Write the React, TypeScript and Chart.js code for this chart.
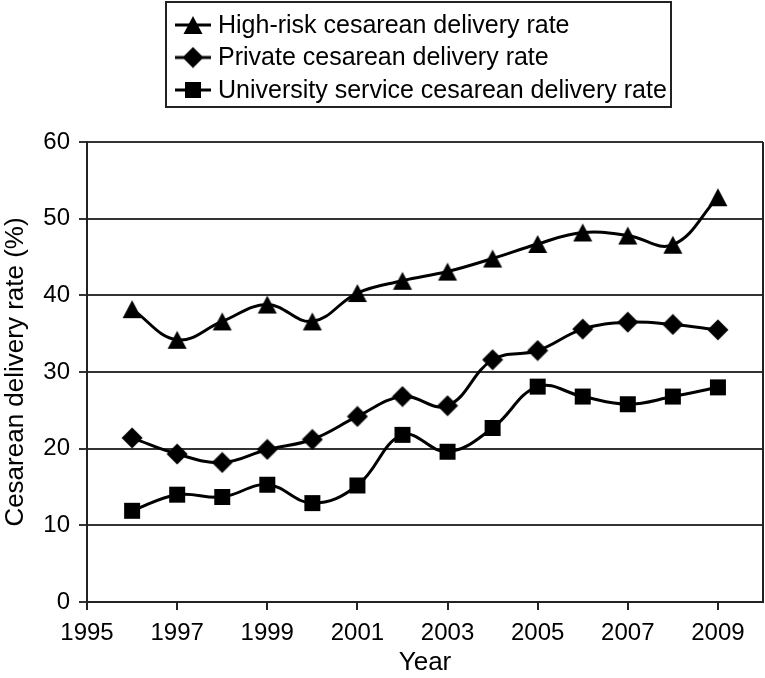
import React, { useEffect, useRef } from 'react';
import { Chart, registerables } from 'chart.js';

Chart.register(...registerables);

const years = [1996, 1997, 1998, 1999, 2000, 2001, 2002, 2003, 2004, 2005, 2006, 2007, 2008, 2009];
const highRiskRate = [38.2, 34.2, 36.6, 38.8, 36.6, 40.3, 41.9, 43.1, 44.8, 46.7, 48.2, 47.8, 46.6, 52.8];
const privateRate = [21.4, 19.3, 18.2, 19.9, 21.2, 24.2, 26.8, 25.6, 31.6, 32.8, 35.6, 36.5, 36.2, 35.5];
const universityRate = [11.9, 14.0, 13.7, 15.3, 12.9, 15.2, 21.8, 19.6, 22.7, 28.1, 26.8, 25.8, 26.8, 28.0];
const seriesLabels = [
  'High-risk cesarean delivery rate',
  'Private cesarean delivery rate',
  'University service cesarean delivery rate',
];
const seriesShapes = ['triangle', 'diamond', 'square'];
const xTickValues = [1995, 1997, 1999, 2001, 2003, 2005, 2007, 2009];
const xMin = 1995;
const xMax = 2010;
const yMin = 0;
const yMax = 60;
const yStep = 10;

const FONT = '"Liberation Sans", Arial, Helvetica, sans-serif';
const INK = '#000000';
const AXIS = '#222222';

function drawShape(ctx: CanvasRenderingContext2D, shape: string, cx: number, cy: number) {
  ctx.fillStyle = INK;
  ctx.beginPath();
  if (shape === 'triangle') {
    const w = 19, h = 18;
    ctx.moveTo(cx, cy - h / 2);
    ctx.lineTo(cx + w / 2, cy + h / 2);
    ctx.lineTo(cx - w / 2, cy + h / 2);
  } else if (shape === 'diamond') {
    const r = 10.5;
    ctx.moveTo(cx, cy - r);
    ctx.lineTo(cx + r, cy);
    ctx.lineTo(cx, cy + r);
    ctx.lineTo(cx - r, cy);
  } else {
    const s = 16;
    ctx.rect(cx - s / 2, cy - s / 2, s, s);
  }
  ctx.closePath();
  ctx.fill();
}

function makeMarker(shape: string): HTMLCanvasElement {
  const c = document.createElement('canvas');
  c.width = 22;
  c.height = 22;
  const ctx = c.getContext('2d')!;
  drawShape(ctx, shape, 11, 11);
  return c;
}

function makeLegendIcon(shape: string): HTMLCanvasElement {
  const c = document.createElement('canvas');
  c.width = 36;
  c.height = 22;
  const ctx = c.getContext('2d')!;
  ctx.strokeStyle = INK;
  ctx.lineWidth = 3;
  ctx.beginPath();
  ctx.moveTo(0, 11);
  ctx.lineTo(36, 11);
  ctx.stroke();
  drawShape(ctx, shape, 18, 11);
  return c;
}

export default function App() {
  const canvasRef = useRef<HTMLCanvasElement | null>(null);

  useEffect(() => {
    if (!canvasRef.current) return;
    const markers = seriesShapes.map(makeMarker);
    const icons = seriesShapes.map(makeLegendIcon);
    const seriesValues = [highRiskRate, privateRate, universityRate];

    const legendPlugin = {
      id: 'boxLegend',
      afterDraw(chart: any) {
        const ctx: CanvasRenderingContext2D = chart.ctx;
        ctx.save();
        ctx.strokeStyle = AXIS;
        ctx.lineWidth = 2;
        ctx.strokeRect(166, 2, 505, 105);
        ctx.font = `25px ${FONT}`;
        ctx.fillStyle = INK;
        ctx.textBaseline = 'middle';
        ctx.textAlign = 'left';
        const rowsY = [25, 57.5, 90];
        chart.data.datasets.forEach((ds: any, i: number) => {
          const y = rowsY[i];
          ctx.drawImage(icons[i], 175, y - 11);
          ctx.fillText(ds.label, 218, y + 1);
        });
        ctx.restore();
      },
    };

    const framePlugin = {
      id: 'frame',
      afterDatasetsDraw(chart: any) {
        const { ctx, chartArea } = chart;
        ctx.save();
        ctx.strokeStyle = AXIS;
        ctx.lineWidth = 2;
        ctx.beginPath();
        ctx.moveTo(chartArea.right, chartArea.top);
        ctx.lineTo(chartArea.right, chartArea.bottom);
        ctx.stroke();
        ctx.restore();
      },
    };

    const chart = new Chart(canvasRef.current, {
      type: 'line',
      data: {
        datasets: seriesLabels.map((label, i) => ({
          label,
          data: years.map((yr, j) => ({ x: yr, y: seriesValues[i][j] })),
          borderColor: INK,
          backgroundColor: INK,
          borderWidth: 3,
          tension: 0.4,
          pointStyle: markers[i],
          pointRadius: 10,
          pointHoverRadius: 10,
          fill: false,
        })),
      },
      options: {
        animation: false,
        responsive: false,
        maintainAspectRatio: false,
        layout: { autoPadding: false, padding: { top: 142, right: 2, left: 0, bottom: 0 } },
        plugins: {
          legend: { display: false },
          tooltip: { enabled: false },
        },
        scales: {
          x: {
            type: 'linear',
            min: xMin,
            max: xMax,
            afterBuildTicks: (axis: any) => {
              axis.ticks = xTickValues.map((v) => ({ value: v }));
            },
            afterFit: (scale: any) => {
              scale.height = 76;
              scale.paddingLeft = 0;
              scale.paddingRight = 0;
            },
            grid: {
              drawOnChartArea: false,
              drawTicks: true,
              tickLength: 8,
              color: AXIS,
              lineWidth: 2,
            },
            border: { display: true, color: AXIS, width: 2 },
            ticks: {
              autoSkip: false,
              maxRotation: 0,
              color: INK,
              padding: 9,
              font: { family: FONT, size: 24 },
              callback: (v: any) => String(v),
            },
            title: {
              display: true,
              text: 'Year',
              color: INK,
              font: { family: FONT, size: 26 },
              padding: { top: 0, bottom: 0 },
            },
          },
          y: {
            min: yMin,
            max: yMax,
            afterFit: (scale: any) => {
              scale.width = 87;
              scale.paddingTop = 0;
              scale.paddingBottom = 0;
            },
            grid: {
              drawOnChartArea: true,
              drawTicks: true,
              tickLength: 8,
              color: '#333333',
              lineWidth: 2,
            },
            border: { display: true, color: AXIS, width: 2 },
            ticks: {
              stepSize: yStep,
              color: INK,
              padding: 9,
              font: { family: FONT, size: 24 },
            },
            title: {
              display: true,
              text: 'Cesarean delivery rate (%)',
              color: INK,
              font: { family: FONT, size: 26 },
              padding: { top: 0, bottom: 0 },
            },
          },
        },
      },
      plugins: [legendPlugin, framePlugin],
    } as any);

    return () => chart.destroy();
  }, []);

  return (
    <div style={{ position: 'fixed', left: 0, top: 0, width: 765, height: 678, background: '#fff' }}>
      <canvas ref={canvasRef} width={765} height={678} style={{ width: 765, height: 678, display: 'block' }} />
    </div>
  );
}
